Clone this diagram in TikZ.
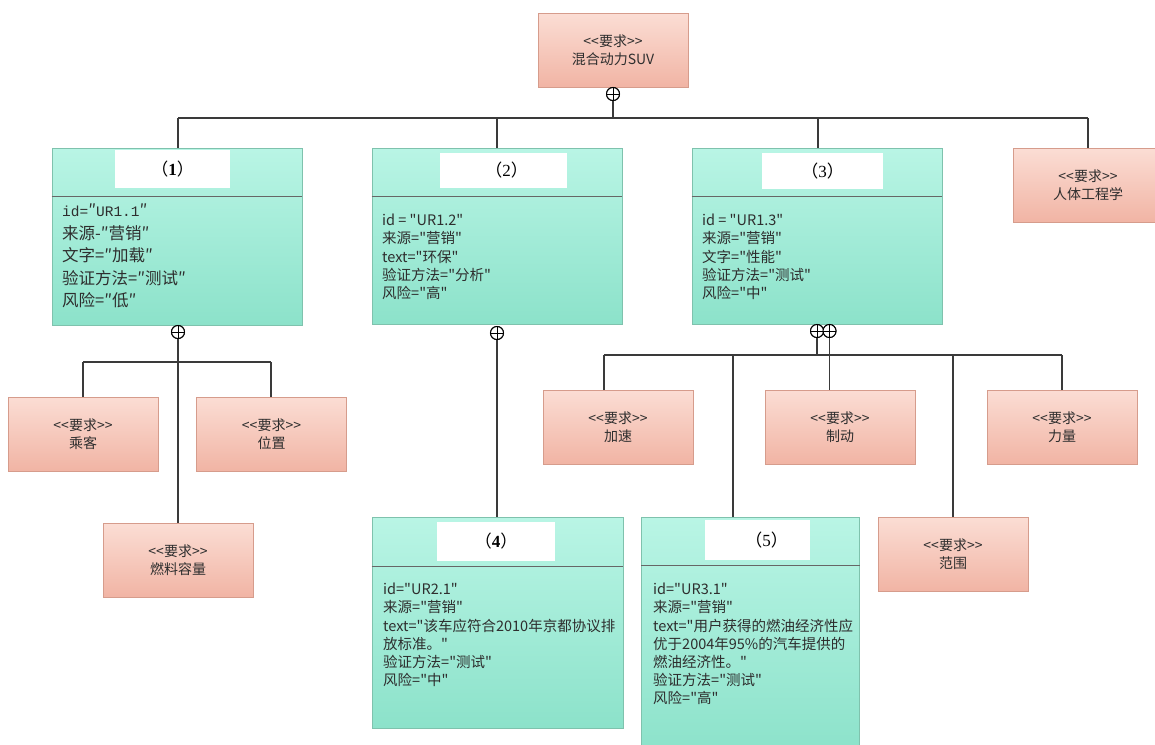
\documentclass[tikz,border=0pt]{standalone}
\usepackage{fontspec}
\setmainfont{Noto Sans CJK SC}
\newfontfamily\cjk{Noto Sans CJK SC}
\newfontfamily\monoff{Liberation Mono}
\newfontfamily\numff{Liberation Serif}
\definecolor{pinkT}{HTML}{FBDDD4}
\definecolor{pinkB}{HTML}{F1B4A4}
\definecolor{pinkD}{HTML}{D69C8C}
\definecolor{tealT}{HTML}{B9F5E5}
\definecolor{tealB}{HTML}{8CE2CA}
\definecolor{tealD}{HTML}{7FC2AD}
\definecolor{lineC}{HTML}{3A3A3A}
\definecolor{txtC}{HTML}{2E2E2E}
\begin{document}
\begin{tikzpicture}[x=1pt,y=-1pt,
  req/.style={draw=pinkD, top color=pinkT, bottom color=pinkB, line width=0.9pt,
    minimum width=150pt, minimum height=74pt, align=center, text=txtC,
    font=\cjk\fontsize{14}{18}\selectfont, inner sep=0pt},
  cls/.style={draw=tealD, top color=tealT, bottom color=tealB, line width=0.9pt, inner sep=0pt},
  hdr/.style={fill=white, inner sep=0pt, text=black, font=\cjk\fontsize{17}{20}\selectfont},
  body/.style={anchor=north west, align=left, inner sep=0pt, text=txtC,
    font=\cjk\fontsize{14.5}{18.2}\selectfont},
  divider/.style={draw=gray!80!black, line width=0.8pt},
  conn/.style={draw=lineC, line width=1.3pt},
  cplus/.style={circle, draw=black, line width=1pt, minimum size=13pt, inner sep=0pt, fill=white,
    path picture={\draw[black, line width=0.9pt] (path picture bounding box.north) -- (path picture bounding box.south)
      (path picture bounding box.west) -- (path picture bounding box.east);}}
]
\useasboundingbox (0,0) rectangle (1155,744);

% ---------- top ----------
\node[req] (suv) at (613,50.5) {<<要求>>\\混合动力SUV};
\node[cplus] (c0) at (613,94) {};

% ---------- classes ----------
\node[cls, minimum width=250pt, minimum height=177pt] (n1) at (177,236.5) {};
\node[cls, minimum width=250pt, minimum height=176pt] (n2) at (497,236) {};
\node[cls, minimum width=250pt, minimum height=176pt] (n3) at (817,236) {};
\node[cls, minimum width=251pt, minimum height=211pt] (n4) at (497.5,622.5) {};
\node[cls, minimum width=218pt, minimum height=236pt] (n5) at (750.5,635) {};

\node[hdr, minimum width=115pt, minimum height=38pt] (h1) at (172.5,169) {（{\numff\bfseries 1}）};
\node[hdr, minimum width=127pt, minimum height=35pt] (h2) at (503.5,170.5) {\hspace{6pt}（{\numff 2}）};
\node[hdr, minimum width=121pt, minimum height=36pt] (h3) at (822.5,171) {（{\numff 3}）};
\node[hdr, minimum width=118pt, minimum height=39pt] (h4) at (496,541.5) {（{\numff\bfseries 4}）};
\node[hdr, minimum width=105pt, minimum height=40pt] (h5) at (757.5,540) {\hspace{18pt}（{\numff 5}）};

\draw[divider] ([yshift=-49pt]n1.north west) -- ([yshift=-49pt]n1.north east);
\draw[divider] ([yshift=-49pt]n2.north west) -- ([yshift=-49pt]n2.north east);
\draw[divider] ([yshift=-49pt]n3.north west) -- ([yshift=-49pt]n3.north east);
\draw[divider] ([yshift=-50pt]n4.north west) -- ([yshift=-50pt]n4.north east);
\draw[divider] ([yshift=-49pt]n5.north west) -- ([yshift=-49pt]n5.north east);

\node[body, font=\cjk\fontsize{16.5}{22.5}\selectfont] (t1) at (62,204) {%
{\monoff\fontsize{14.5}{22.5}\selectfont id=}″{\monoff\fontsize{14.5}{22.5}\selectfont UR1.1}″\\
来源-″营销″\\
文字=″加载″\\
验证方法=″测试″\\
风险=″低″};

\node[body] (t2) at (382,214) {id = "UR1.2"\\来源="营销"\\text="环保"\\验证方法="分析"\\风险="高"};
\node[body] (t3) at (702,214) {id = "UR1.3"\\来源="营销"\\文字="性能"\\验证方法="测试"\\风险="中"};
\node[body] (t4) at (383,583) {id="UR2.1"\\来源="营销"\\text="该车应符合2010年京都协议排\\放标准。"\\验证方法="测试"\\风险="中"};
\node[body] (t5) at (653,583) {id="UR3.1"\\来源="营销"\\text="用户获得的燃油经济性应\\优于2004年95\%的汽车提供的\\燃油经济性。"\\验证方法="测试"\\风险="高"};

\node[req] (ergo) at (1088,185.5) {<<要求>>\\人体工程学};

% ---------- small requirements ----------
\node[req] (pass) at (83,434) {<<要求>>\\乘客};
\node[req] (pos) at (271.5,434) {<<要求>>\\位置};
\node[req] (fuel) at (178,560.5) {<<要求>>\\燃料容量};
\node[req] (acc) at (618,427) {<<要求>>\\加速};
\node[req] (brk) at (840,427) {<<要求>>\\制动};
\node[req] (pow) at (1062,427) {<<要求>>\\力量};
\node[req] (rng) at (953,554.5) {<<要求>>\\范围};

% ---------- containment circles ----------
\node[cplus] (c1) at (178,332) {};
\node[cplus] (c2) at (497,333) {};
\node[cplus] (c3) at (817,331) {};
\node[cplus] (c4) at (829.5,331) {};

% ---------- connectors ----------
\coordinate (b0) at (613,118);
\coordinate (bL) at (178,118);
\coordinate (bR) at (1088,118);
\draw[conn] (c0) -- (b0);
\draw[conn] (bL) -- (bR);
\draw[conn] (bL) -- (bL |- n1.north);
\draw[conn] (497,118) -- (n2.north);
\draw[conn] (818,118) -- (818,148);
\draw[conn] (bR) -- (bR |- ergo.north);

\coordinate (d1) at (83,362);
\coordinate (d2) at (271,362);
\draw[conn] (c1) -- (fuel.north -| c1);
\draw[conn] (d1) -- (d2);
\draw[conn] (d1) -- (d1 |- pass.north);
\draw[conn] (d2) -- (d2 |- pos.north);

\draw[conn] (c2) -- (c2 |- n4.north);

\coordinate (e1) at (604,355);
\coordinate (e2) at (1062,355);
\coordinate (e3) at (733,355);
\coordinate (e4) at (953,355);
\draw[conn] (c3) -- (c3 |- e1);
\draw[conn] (e1) -- (e2);
\draw[conn] (e1) -- (e1 |- acc.north);
\draw[conn] (e3) -- (e3 |- n5.north);
\draw[conn] (e4) -- (e4 |- rng.north);
\draw[conn] (e2) -- (e2 |- pow.north);
\draw[conn] (c4) -- (c4 |- brk.north);

% redraw circles on top
\node[cplus] at (c0) {};
\node[cplus] at (c1) {};
\node[cplus] at (c2) {};
\node[cplus] at (c3) {};
\node[cplus] at (c4) {};
\end{tikzpicture}
\end{document}
